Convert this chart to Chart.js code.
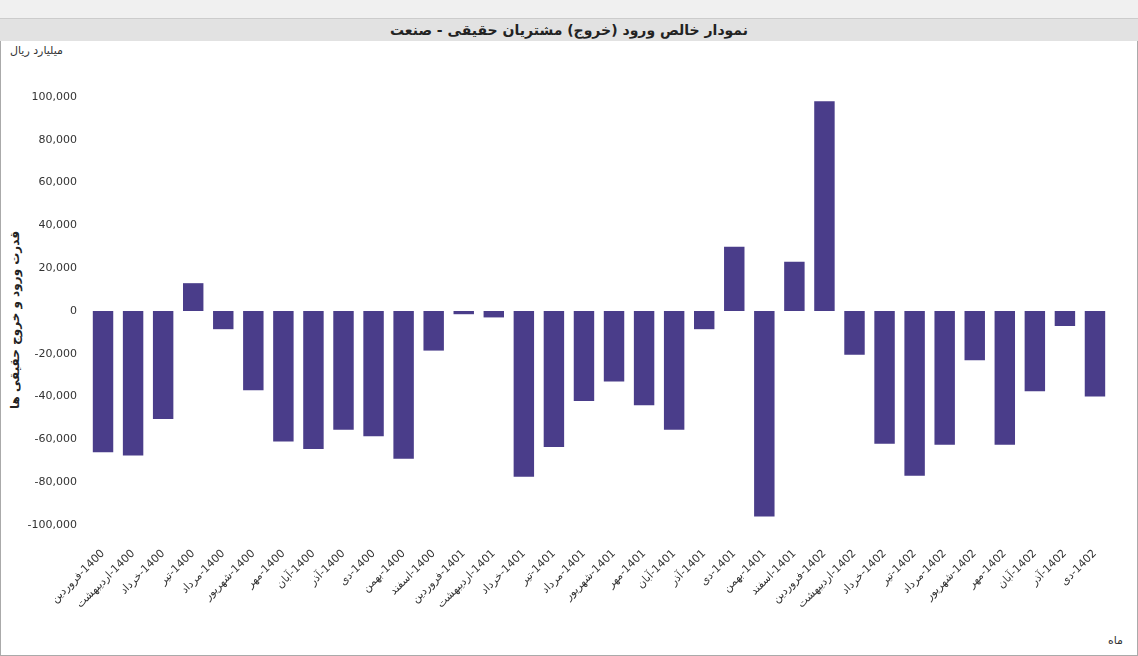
<!DOCTYPE html>
<html><head><meta charset="utf-8">
<script src="https://cdn.jsdelivr.net/npm/chart.js@4"></script>
<style>
body{margin:0;width:1138px;height:656px;overflow:hidden;background:#fff;font-family:Tahoma,"DejaVu Sans",sans-serif;}
#frame{position:absolute;left:0;top:0;width:1136px;height:654px;border:1px solid #aaa;}
#top{position:absolute;left:0;top:0;width:1138px;height:18px;background:#f0f0f0;border-bottom:1px solid #ccc;}
#title{position:absolute;left:0;top:19px;width:1138px;height:22px;background:#e2e2e2;text-align:center;font-weight:bold;font-size:14px;line-height:22px;color:#222;direction:rtl;}
#unit{position:absolute;left:10px;top:44px;font-size:11px;color:#333;direction:rtl;}
#ytitle{position:absolute;left:15px;top:320px;transform:translate(-50%,-50%) rotate(-90deg);font-size:12px;font-weight:bold;white-space:nowrap;direction:rtl;color:#222;}
#xtitle{position:absolute;left:1108px;top:634px;font-size:11px;color:#333;}
canvas{position:absolute;left:0;top:0;}
</style></head><body>
<div id="frame"></div><div id="top"></div>
<div id="title">نمودار خالص ورود (خروج) مشتریان حقیقی - صنعت</div>
<div id="unit">میلیارد ریال</div>
<div id="ytitle">قدرت ورود و خروج حقیقی ها</div>
<div id="xtitle">ماه</div>
<canvas id="c" width="1138" height="656"></canvas>
<script>
const years = ['1400','1401','1402'];
const months = ['فروردین','اردیبهشت','خرداد','تیر','مرداد','شهریور','مهر','آبان','آذر','دی','بهمن','اسفند'];
const labels = [];
years.forEach((y, i) => {
  const n = i === 2 ? 10 : 12;
  // LRM keeps the year on the right-hand end of the rotated label
  for (let m = 0; m < n; m++) labels.push(months[m] + '\u200E-' + y);
});
const values = [-66000,-67500,-50500,13000,-8500,-37000,-61000,-64500,-55500,-58500,-69000,-18500,
  -1500,-3000,-77500,-63500,-42000,-33000,-44000,-55500,-8500,30000,-96000,23000,
  98000,-20500,-62000,-77000,-62500,-23000,-62500,-37500,-7000,-40000];
const yTicks = [-100000,-80000,-60000,-40000,-20000,0,20000,40000,60000,80000,100000];

Chart.defaults.animation = false;
new Chart(document.getElementById('c'), {
  type: 'bar',
  data: { labels, datasets: [{ data: values, backgroundColor: '#4a3d8a', categoryPercentage: 0.68, barPercentage: 1 }] },
  options: {
    responsive: false,
    layout: { padding: { top: 97, bottom: 31, right: 28, left: 0 } },
    plugins: { legend: { display: false }, tooltip: { enabled: false } },
    scales: {
      x: {
        grid: { display: false }, border: { display: false },
        ticks: { minRotation: 45, maxRotation: 45, autoSkip: false, padding: 14, color: '#333', font: { size: 11, family: 'Tahoma, DejaVu Sans' } },
        afterFit: (s) => { s.height = 100; }
      },
      y: {
        min: -100000, max: 100000,
        grid: { display: false }, border: { display: false },
        afterBuildTicks: (s) => { s.ticks = yTicks.map(v => ({ value: v })); },
        ticks: { color: '#333', font: { size: 11, family: 'Tahoma, DejaVu Sans' }, callback: (v) => v.toLocaleString('en-US') },
        afterFit: (s) => { s.width = 88; }
      }
    }
  }
});
</script>
</body></html>
